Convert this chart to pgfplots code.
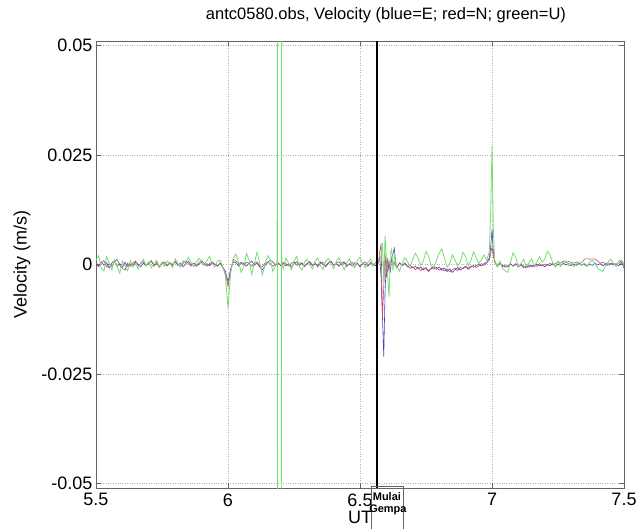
\documentclass[border=0pt]{standalone}
\usepackage{fontspec}
\setmainfont{Liberation Sans}
\usepackage{pgfplots}
\usepackage{pgfplotstable}
\pgfplotsset{compat=1.18}

\definecolor{velE}{RGB}{80,60,185}
\definecolor{velN}{RGB}{195,75,105}
\definecolor{velU}{RGB}{115,222,115}
\definecolor{axgray}{RGB}{100,100,100}

% velocity in mm/s, time in hours (UT)
\pgfplotstableread{
x E N U
5.50 0.2 0.5 1.0
5.51 -0.5 -0.3 2.0
5.52 0.6 0.4 -0.8
5.53 -0.2 0.9 -1.5
5.54 0.4 -0.6 1.8
5.55 -0.8 0.2 0.3
5.56 0.3 -0.4 -1.2
5.57 0.9 0.6 1.1
5.58 -0.3 1.2 -0.5
5.59 0.2 -0.2 -2.0
5.60 -0.6 -0.9 0.8
5.61 0.5 -1.3 -0.4
5.62 -0.4 0.3 -1.4
5.63 0.1 -0.5 0.9
5.64 -0.2 0.4 -0.6
5.65 0.6 0.8 0.2
5.66 0.0 -0.3 -1.0
5.67 -0.5 0.2 0.5
5.68 0.3 0.7 1.2
5.69 -0.3 -0.2 -0.3
5.70 0.4 0.1 0.7
5.71 0.7 0.9 -0.8
5.72 -0.1 -0.4 0.4
5.73 0.2 0.5 1.0
5.74 -0.4 -0.7 -0.6
5.75 0.5 0.3 0.5
5.76 0.1 0.6 -0.4
5.77 -0.3 -0.2 0.8
5.78 0.4 0.4 0.3
5.79 0.0 -0.3 -0.7
5.80 0.6 0.7 1.3
5.81 -0.2 0.1 0.2
5.82 0.3 -0.5 -0.6
5.83 -0.5 0.3 0.9
5.84 0.2 0.8 0.4
5.85 0.7 0.2 1.6
5.86 -0.1 -0.4 0.5
5.87 0.3 0.3 -0.5
5.88 -0.4 -0.2 0.6
5.89 0.1 0.5 1.4
5.90 0.5 0.9 0.7
5.91 -0.2 0.3 -0.3
5.92 0.2 -0.4 0.9
5.93 -0.3 0.2 1.9
5.94 0.4 0.6 0.4
5.95 0.0 0.1 -0.6
5.96 -0.4 -0.3 0.8
5.97 0.3 0.4 1.0
5.98 -0.6 -0.8 -0.5
5.99 -1.5 -2.0 -2.5
6.00 -4.0 -5.0 -10.0
6.01 -1.0 -1.5 -2.0
6.02 0.6 1.2 1.5
6.03 0.4 0.8 2.4
6.04 -0.3 0.2 0.5
6.05 0.5 0.4 -1.8
6.06 0.2 -0.2 -0.5
6.07 -0.4 0.5 2.5
6.08 0.3 0.3 1.0
6.09 0.8 -0.4 -2.2
6.10 -0.2 0.2 0.3
6.11 0.4 0.6 2.8
6.12 -0.6 -0.3 0.4
6.13 -1.2 -0.5 -2.4
6.14 -0.4 0.3 -0.2
6.15 0.5 0.5 2.0
6.16 1.0 0.2 1.2
6.17 0.6 -0.4 -1.6
6.18 -0.2 0.1 -0.3
6.186 0.0 0.2 0.5
6.187 0.0 0.2 58
6.188 0.1 0.2 -58
6.19 0.3 0.4 -58
6.20 -0.3 -0.2 -58
6.202 -0.2 -0.1 -58
6.203 -0.1 0.0 58
6.204 0.0 0.1 0.3
6.21 0.4 0.5 -1.0
6.22 -0.3 0.2 1.5
6.23 0.2 -0.4 0.2
6.24 -0.5 0.3 -1.2
6.25 0.3 0.6 0.8
6.26 0.6 -0.2 1.8
6.27 -0.2 0.4 -0.4
6.28 0.4 0.1 -1.3
6.29 -0.4 -0.5 0.6
6.30 0.2 0.3 1.2
6.31 0.5 0.7 -0.2
6.32 -0.3 -0.2 -1.0
6.33 0.1 0.4 0.9
6.34 -0.2 -0.6 1.5
6.35 0.6 0.2 -0.3
6.36 0.0 0.5 -1.1
6.37 -0.5 -0.3 0.7
6.38 0.3 0.4 1.4
6.39 0.7 0.8 0.1
6.40 -0.1 -0.2 -0.9
6.41 0.2 0.3 0.6
6.42 -0.4 0.6 1.6
6.43 0.3 -0.1 0.2
6.44 0.6 0.4 -1.2
6.45 -0.2 -0.5 0.4
6.46 0.1 0.2 1.3
6.47 -0.3 0.5 -0.2
6.48 0.4 -0.3 -0.8
6.49 0.2 0.3 0.9
6.50 -0.5 -0.4 1.7
6.51 0.3 0.2 0.3
6.52 0.0 0.6 -0.7
6.53 -0.4 -0.2 0.5
6.54 0.5 0.4 1.2
6.55 0.1 -0.3 -0.4
6.56 -0.3 0.2 0.6
6.565 0.2 0.4 0.3
6.57 0.3 0.5 0.5
6.575 1.5 3.0 1.0
6.58 -3.0 4.8 2.0
6.585 -12.0 -12.0 5.0
6.59 -21.0 -5.0 -4.0
6.595 -6.0 2.5 6.6
6.60 1.0 -3.0 1.5
6.605 -2.0 1.5 -3.0
6.61 0.5 -1.0 -7.5
6.615 -1.5 0.5 2.5
6.62 1.5 1.0 3.5
6.625 2.5 0.2 -1.5
6.63 3.7 0.5 2.0
6.635 0.5 -0.3 0.8
6.64 -0.8 -0.5 -0.5
6.65 0.4 0.3 -1.5
6.66 -0.3 -0.2 0.4
6.67 0.2 0.4 1.6
6.68 -0.5 -0.4 0.6
6.69 -0.2 -0.9 -0.4
6.70 -0.8 -0.5 1.2
6.71 -0.4 -1.2 2.6
6.72 -1.0 -0.6 1.4
6.73 -0.6 -1.4 -0.2
6.74 -1.2 -0.8 0.8
6.75 -0.7 -1.0 3.0
6.76 -1.5 -1.6 1.8
6.77 -0.9 -0.7 -0.3
6.78 -0.5 -1.1 -0.6
6.79 -1.1 -0.6 1.0
6.80 -0.6 -1.3 2.6
6.81 -1.3 -0.9 3.6
6.82 -0.8 -1.5 1.5
6.83 -1.6 -1.0 -0.6
6.84 -1.0 -1.7 0.2
6.85 -1.8 -1.2 2.2
6.86 -1.2 -0.8 1.0
6.87 -0.7 -1.4 -0.4
6.88 -1.3 -0.6 0.6
6.89 -0.8 -1.0 2.8
6.90 -0.4 -0.5 1.8
6.91 -0.9 -1.1 -0.3
6.92 -0.3 -0.6 0.9
6.93 -0.6 -0.2 2.9
6.94 -0.2 -0.7 1.6
6.95 0.0 -0.3 0.2
6.96 -0.3 0.2 1.1
6.97 0.2 -0.2 2.2
6.98 0.5 0.4 1.0
6.99 1.5 1.0 3.0
6.995 4.0 2.5 12.0
7.00 8.0 4.0 27.0
7.005 3.0 2.0 8.0
7.01 0.8 0.5 1.0
7.02 -0.5 -0.3 -0.5
7.03 0.3 0.4 0.8
7.04 -0.2 -0.5 -0.9
7.05 -0.6 -0.2 -1.5
7.06 -0.3 -0.6 -1.8
7.07 0.2 0.1 0.5
7.08 -0.4 -0.3 2.7
7.09 0.1 0.2 1.6
7.10 -0.5 -0.6 -0.6
7.11 -0.2 0.1 0.3
7.12 -0.7 -0.4 1.2
7.13 -0.3 -0.8 -0.5
7.14 -0.6 -0.2 0.4
7.15 -0.2 -0.5 1.3
7.16 -0.5 -0.1 -0.4
7.17 0.1 -0.4 0.6
7.18 -0.3 0.2 1.8
7.19 -0.1 -0.3 0.5
7.20 -0.5 0.1 1.2
7.21 0.0 -0.2 3.0
7.22 -0.3 0.3 2.2
7.23 0.2 -0.1 0.4
7.24 -0.4 0.2 -0.6
7.25 0.1 0.6 0.8
7.26 -0.2 0.3 -0.4
7.27 0.3 0.8 0.5
7.28 -0.1 0.4 0.9
7.29 0.2 0.7 -0.3
7.30 -0.3 0.5 0.4
7.31 0.1 0.3 -0.5
7.32 -0.2 0.6 0.2
7.33 0.2 0.2 0.6
7.34 -0.1 0.4 -0.2
7.35 0.0 1.2 0.3
7.36 -0.4 1.3 -0.4
7.37 0.1 1.2 0.5
7.38 -0.2 1.3 1.0
7.39 0.3 1.2 0.2
7.40 -0.1 0.8 -0.8
7.41 0.2 0.3 -1.3
7.42 -0.3 0.5 -1.6
7.43 0.1 0.2 -0.4
7.44 -0.2 0.4 0.6
7.45 0.3 0.0 1.2
7.46 -0.1 0.3 0.3
7.47 0.2 -0.2 -0.5
7.48 -0.3 0.4 0.8
7.49 0.5 0.9 1.0
7.50 -0.8 0.2 -0.5
}\veltable

\begin{document}
\begin{tikzpicture}
\begin{axis}[
    scale only axis,
    width=528pt, height=447pt,
    xmin=5.5, xmax=7.5,
    ymin=-51, ymax=51,
    xtick={5.5,6,6.5,7,7.5},
    xticklabels={5.5,6,6.5,7,7.5},
    ytick={-50,-25,0,25,50},
    yticklabels={-0.05,-0.025,0,0.025,0.05},
    tick align=inside,
    major tick length=5pt,
    grid=major,
    grid style={dotted, gray!60, line width=0.5pt},
    axis line style={axgray, line width=0.7pt},
    tick style={axgray, line width=0.7pt},
    ticklabel style={font=\fontsize{18}{18}\selectfont},
    xticklabel style={yshift=-2pt},
    title={antc0580.obs, Velocity (blue=E; red=N; green=U)},
    title style={font=\fontsize{16.5}{16.5}\selectfont, at={(axis description cs:0.5,1)}, anchor=base, yshift=15pt, xshift=26pt},
    ylabel={Velocity (m/s)},
    ylabel style={font=\fontsize{18}{18}\selectfont, at={(axis description cs:-0.140,0.5)}, anchor=center},
    xlabel={UT},
    xlabel style={font=\fontsize{18}{18}\selectfont, at={(axis description cs:0.5,-0.066)}, anchor=center},
    clip mode=individual,
]
\addplot[velE, line width=0.6pt] table[x=x, y=E] {\veltable};
\addplot[velN, line width=0.6pt] table[x=x, y=N] {\veltable};
\addplot[velU, line width=0.8pt] table[x=x, y=U] {\veltable};
% start of the earthquake
\addplot[black, line width=2.2pt] coordinates {(6.564,-51) (6.564,51)};
\coordinate (quake) at (axis cs:6.564,-51);
\end{axis}
\draw[axgray, line width=0.5pt] ([shift={(-6pt,2pt)}]quake) rectangle ([shift={(26pt,-60pt)}]quake);
\node[font=\fontsize{11}{11}\selectfont\bfseries] at ([shift={(10pt,-9pt)}]quake) {Mulai};
\node[font=\fontsize{11}{11}\selectfont\bfseries] at ([shift={(11pt,-22pt)}]quake) {Gempa};
\pgfresetboundingbox
\path[use as bounding box] (-96pt,-40pt) rectangle (540pt,488pt);
\end{tikzpicture}
\end{document}
